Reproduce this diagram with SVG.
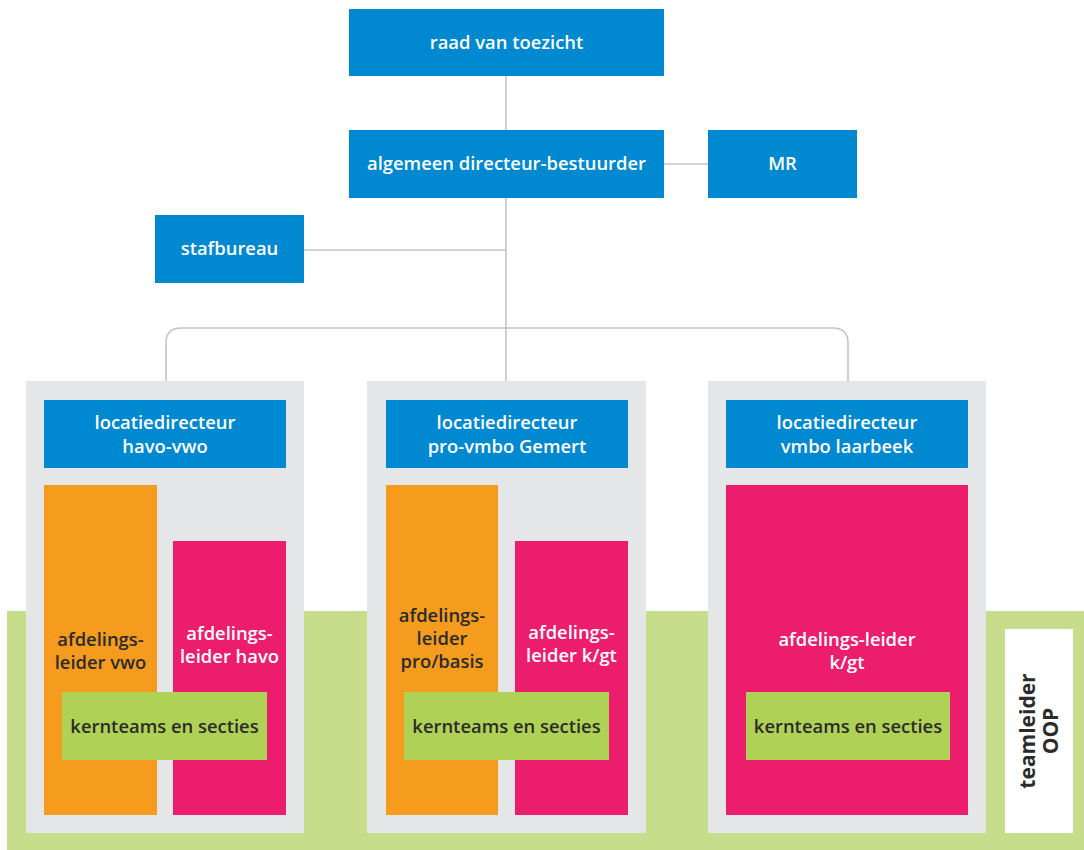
<svg xmlns="http://www.w3.org/2000/svg" width="1084" height="850" viewBox="0 0 1084 850">
<style>
text{font-family:"Open Sans","Noto Sans","Liberation Sans",sans-serif;font-weight:600;font-size:18.4px;text-anchor:middle}
.big{font-size:21px;font-weight:700}
.blue{fill:#0088d1}
.panel{fill:#e5e6e8}
.orange{fill:#f59c1f}
.pink{fill:#ec1d6d}
.kern{fill:#afd155}
.w{fill:#ffffff}
.d{fill:#2b2b2b}
.conn{fill:none;stroke:#c4c4c4;stroke-width:1.6}
</style>
<rect x="0" y="0" width="1084" height="850" fill="#ffffff"/>
<rect id="oop-band" x="7" y="611" width="1077" height="239" fill="#c6de8c"/>
<g id="connectors">
<line class="conn" x1="506" y1="76" x2="506" y2="381"/>
<line class="conn" x1="664" y1="164" x2="708" y2="164"/>
<line class="conn" x1="304" y1="250" x2="506" y2="250"/>
<path class="conn" d="M166 381 V343 Q166 328 181 328 H833 Q848 328 848 343 V381"/>
</g>
<g id="raad"><rect class="blue" x="349" y="9" width="315" height="67"/><text class="w" x="506.5" y="49">raad van toezicht</text></g>
<g id="directeur"><rect class="blue" x="349" y="130" width="315" height="68"/><text class="w" x="506.5" y="170">algemeen directeur-bestuurder</text></g>
<g id="mr"><rect class="blue" x="708" y="130" width="149" height="68"/><text class="w" x="782.5" y="170">MR</text></g>
<g id="stafbureau"><rect class="blue" x="155" y="215" width="149" height="68"/><text class="w" x="229.5" y="255">stafbureau</text></g>

<g id="panel-havo-vwo">
<rect class="panel" x="26" y="381" width="278" height="452"/>
<rect class="blue" x="44" y="400" width="242" height="68"/>
<text class="w" x="165" y="429">locatiedirecteur</text>
<text class="w" x="165" y="453">havo-vwo</text>
<rect class="orange" x="44" y="485" width="113" height="330"/>
<text class="d" x="100.5" y="646">afdelings-</text>
<text class="d" x="100.5" y="669">leider vwo</text>
<rect class="pink" x="173" y="541" width="113" height="274"/>
<text class="w" x="229.5" y="640">afdelings-</text>
<text class="w" x="229.5" y="663">leider havo</text>
<rect class="kern" x="62" y="692" width="205" height="68"/>
<text class="d" x="164.5" y="733">kernteams en secties</text>
</g>

<g id="panel-pro-vmbo">
<rect class="panel" x="367" y="381" width="279" height="452"/>
<rect class="blue" x="386" y="400" width="242" height="68"/>
<text class="w" x="507" y="429">locatiedirecteur</text>
<text class="w" x="507" y="453">pro-vmbo Gemert</text>
<rect class="orange" x="386" y="485" width="112" height="330"/>
<text class="d" x="442" y="622">afdelings-</text>
<text class="d" x="442" y="645">leider</text>
<text class="d" x="442" y="668">pro/basis</text>
<rect class="pink" x="515" y="541" width="113" height="274"/>
<text class="w" x="571.5" y="639">afdelings-</text>
<text class="w" x="571.5" y="662">leider k/gt</text>
<rect class="kern" x="404" y="692" width="205" height="68"/>
<text class="d" x="506.5" y="733">kernteams en secties</text>
</g>

<g id="panel-vmbo-laarbeek">
<rect class="panel" x="708" y="381" width="278" height="452"/>
<rect class="blue" x="726" y="400" width="242" height="68"/>
<text class="w" x="847" y="429">locatiedirecteur</text>
<text class="w" x="847" y="453">vmbo laarbeek</text>
<rect class="pink" x="726" y="485" width="242" height="330"/>
<text class="w" x="847" y="646">afdelings-leider</text>
<text class="w" x="847" y="669">k/gt</text>
<rect class="kern" x="746" y="692" width="204" height="68"/>
<text class="d" x="848" y="733">kernteams en secties</text>
</g>

<g id="teamleider-oop">
<rect class="w" x="1005" y="629" width="68" height="204"/>
<text class="d big" transform="translate(1039 731) rotate(-90)" x="0" y="-4">teamleider</text>
<text class="d big" transform="translate(1039 731) rotate(-90)" x="0" y="19">OOP</text>
</g>
</svg>
